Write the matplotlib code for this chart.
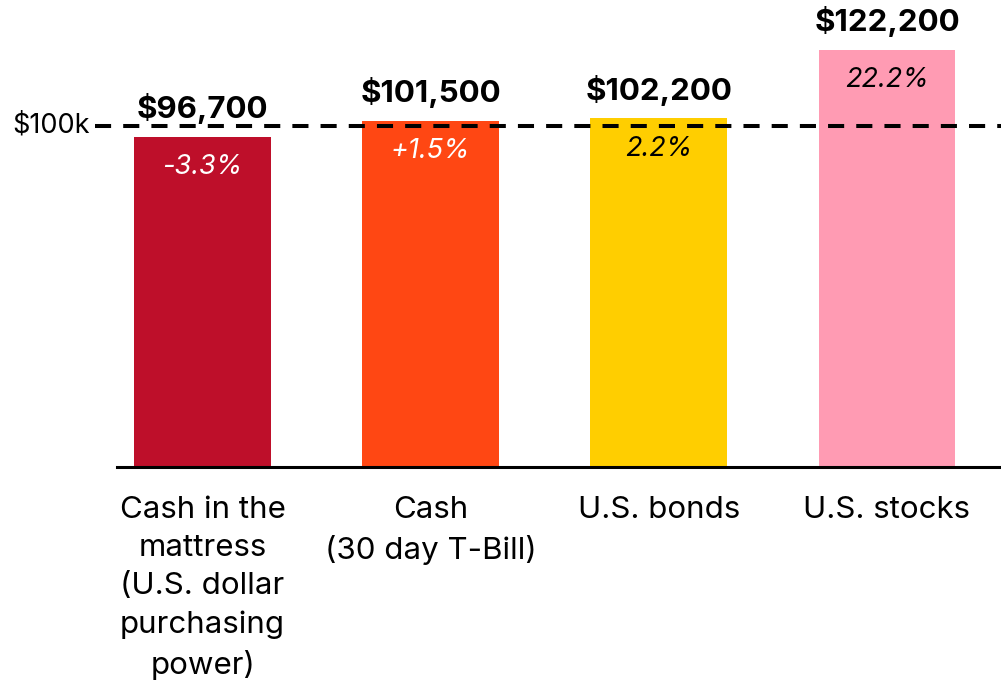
import matplotlib.pyplot as plt

plt.rcParams['font.family'] = ['Inter', 'DejaVu Sans']

categories = [
    "Cash in the\nmattress\n(U.S. dollar\npurchasing\npower)",
    "Cash\n(30 day T-Bill)",
    "U.S. bonds",
    "U.S. stocks",
]
values = [96700, 101500, 102200, 122200]
value_labels = ["$96,700", "$101,500", "$102,200", "$122,200"]
pct_labels = ["-3.3%", "+1.5%", "2.2%", "22.2%"]
colors = ["#BE0F2A", "#FF4713", "#FFCE00", "#FF9BB3"]
pct_colors = ["white", "white", "black", "black"]
reference = 100000

fig = plt.figure(figsize=(10.01, 6.8), dpi=100)
ax = fig.add_axes([0.1169, 0.3132, 0.8831, 0.6868])

x = range(len(values))
ax.bar(x, values, width=0.6, color=colors, zorder=2)

for i, v in enumerate(values):
    ax.annotate(value_labels[i], (i, v), xytext=(0, 9), textcoords="offset points",
                ha="center", va="bottom", fontsize=22.5, fontweight="bold", zorder=4)
    ax.annotate(pct_labels[i], (i, v), xytext=(0, -22), textcoords="offset points",
                ha="center", va="center", fontsize=19.5, style="italic",
                color=pct_colors[i], zorder=4)

# dashed reference line, runs a bit left of the axes
ax.plot([-0.47, 3.5], [reference, reference], color="black", lw=2.9,
        dashes=(4, 3), clip_on=False, zorder=3)
ax.text(-0.495, reference, "$100k", ha="right", va="center", fontsize=19.5)

ax.set_xlim(-0.375, 3.5)
ax.set_ylim(0, 136800)
ax.set_yticks([])
ax.set_xticks(list(x))
ax.set_xticklabels(categories, fontsize=22.5, linespacing=1.46)
ax.tick_params(axis="x", length=0, pad=21)
for s in ["top", "right", "left"]:
    ax.spines[s].set_visible(False)
ax.spines["bottom"].set_linewidth(2.2)

plt.savefig("out.png", dpi=100)
plt.close()
